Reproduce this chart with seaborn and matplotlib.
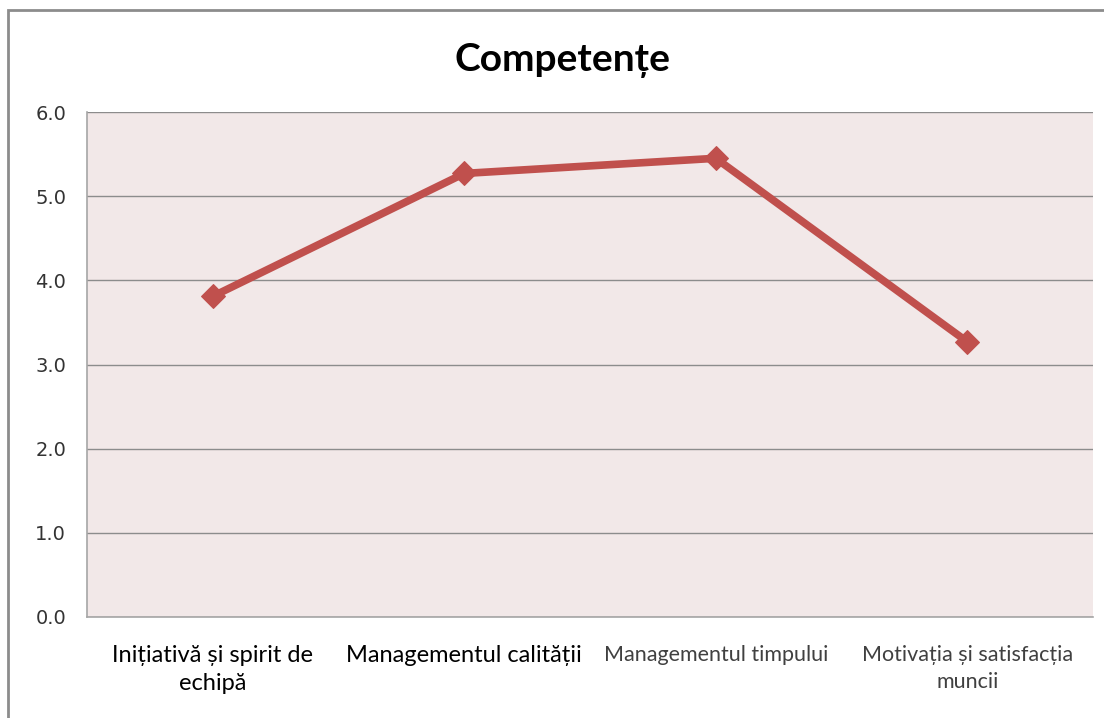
import matplotlib
matplotlib.use("Agg")
import matplotlib.pyplot as plt
import seaborn as sns
import pandas as pd
from matplotlib.patches import Rectangle

categories = ["Inițiativă și spirit de\nechipă", "Managementul calității",
              "Managementul timpului", "Motivația și satisfacția\nmuncii"]
scores = [3.81, 5.27, 5.45, 3.27]
y_ticks = [0.0, 1.0, 2.0, 3.0, 4.0, 5.0, 6.0]

df = pd.DataFrame({"cat": categories, "score": scores})

sns.set_style("white")
plt.rcParams["font.family"] = ["Lato", "DejaVu Sans"]

fig = plt.figure(figsize=(11.04, 7.18), dpi=100)
ax = fig.add_axes([87 / 1104, 1 - 617 / 718, 1006 / 1104, 505 / 718])
ax.set_facecolor("#F2E8E8")

sns.lineplot(data=df, x="cat", y="score", sort=False, ax=ax,
             color="#C0504D", linewidth=5.5, marker="D", markersize=12,
             markeredgecolor="#C0504D")

ax.set_xlim(-0.5, 3.5)
ax.set_ylim(0, 6)
ax.set_yticks(y_ticks)
ax.set_yticklabels([f"{v:.1f}" for v in y_ticks], family="DejaVu Sans",
                   fontsize=14, color="#333333")
ax.yaxis.grid(True, color="#8C8C8C", linewidth=1)
ax.set_axisbelow(True)
ax.tick_params(axis="y", length=0, pad=15)
ax.tick_params(axis="x", length=0, pad=20)
ax.set_xlabel("")
ax.set_ylabel("")

ax.set_xticks(range(len(categories)))
ax.set_xticklabels(categories, linespacing=1.45)
sizes = [17, 17, 15.5, 15.5]
colors = ["#000000", "#000000", "#404040", "#404040"]
for lbl, s, c in zip(ax.get_xticklabels(), sizes, colors):
    lbl.set_fontsize(s)
    lbl.set_color(c)
    lbl.set_verticalalignment("top")

for side in ["top", "right"]:
    ax.spines[side].set_visible(False)
for side in ["left", "bottom"]:
    ax.spines[side].set_color("#A6A6A6")
    ax.spines[side].set_linewidth(1.2)

fig.text(562 / 1104, 1 - 60 / 718, "Competențe", ha="center", va="center",
         fontsize=28, fontweight="bold", color="black")

fig.patches.append(Rectangle((8 / 1104, -0.05), 1.2, 1 - 10 / 718 + 0.05,
                             transform=fig.transFigure, fill=False,
                             edgecolor="#8C8C8C", linewidth=2))

fig.savefig("out.png", dpi=100)
